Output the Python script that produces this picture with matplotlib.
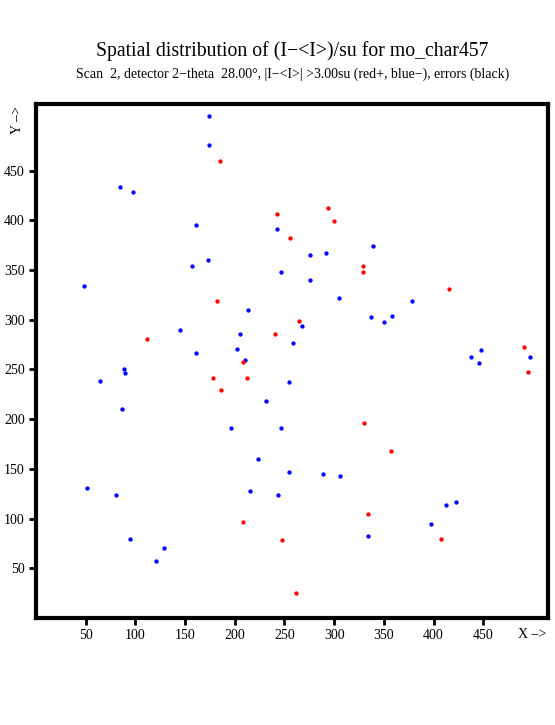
import matplotlib
matplotlib.use("Agg")
import matplotlib.pyplot as plt

plt.rcParams['font.family'] = ['Liberation Serif', 'DejaVu Serif']

# points with (I-<I>)/su < -3 (blue)
blue_x = [174, 174, 84, 98, 161, 242, 157, 173, 48, 339, 276, 292, 246, 276,
          213, 145, 205, 202, 161, 210, 88, 89, 64, 231, 86, 196, 246, 223,
          305, 378, 337, 358, 350, 268, 259, 448, 438, 497, 446, 255, 255,
          289, 306, 51, 80, 215, 243, 95, 129, 121, 413, 423, 397, 334]
blue_y = [505, 476, 433, 428, 395, 391, 354, 360, 334, 374, 365, 367, 348, 340,
          310, 290, 286, 271, 267, 259, 250, 246, 238, 218, 210, 191, 191, 160,
          322, 319, 303, 304, 298, 294, 277, 270, 262, 262, 256, 237, 147,
          145, 143, 131, 124, 128, 124, 79, 70, 57, 114, 117, 95, 82]

# points with (I-<I>)/su > +3 (red)
red_x = [185, 242, 294, 300, 256, 329, 329, 416, 182, 112, 240, 208, 178, 212,
         186, 265, 491, 495, 330, 357, 208, 334, 248, 408, 262]
red_y = [460, 406, 412, 399, 382, 354, 348, 331, 319, 281, 286, 257, 241, 241,
         229, 299, 273, 247, 196, 168, 97, 105, 78, 79, 25]

xticks = [50, 100, 150, 200, 250, 300, 350, 400, 450]
yticks = [50, 100, 150, 200, 250, 300, 350, 400, 450]

fig = plt.figure(figsize=(5.55, 7.25), dpi=100)
ax = fig.add_axes([0.065, 0.1476, 0.922, 0.709])

ax.plot(blue_x, blue_y, 'o', color='#0000ff', ms=3.1, mew=0, ls='none')
ax.plot(red_x, red_y, 'o', color='#ff0000', ms=3.1, mew=0, ls='none')

ax.set_xlim(0, 515)
ax.set_ylim(0, 517)
ax.set_xticks(xticks)
ax.set_yticks(yticks)
ax.tick_params(direction='out', length=5, width=2, labelsize=10, pad=3)
for s in ax.spines.values():
    s.set_linewidth(3)

ax.text(0.942, -0.033, 'X \u2013>', transform=ax.transAxes, ha='left',
        va='center', fontsize=10)
fig.text(0.031, 0.835, 'Y \u2013>', rotation=90, ha='center', va='center',
         fontsize=10)

fig.text(0.526, 0.929, 'Spatial distribution of (I\u2212<I>)/su for mo_char457',
         ha='center', va='center', fontsize=14.2)
fig.text(0.527, 0.898,
         'Scan  2, detector 2\u2212theta  28.00\u00b0, |I\u2212<I>| >3.00su '
         '(red+, blue\u2212), errors (black)',
         ha='center', va='center', fontsize=10)

fig.savefig('out.png', dpi=100)
